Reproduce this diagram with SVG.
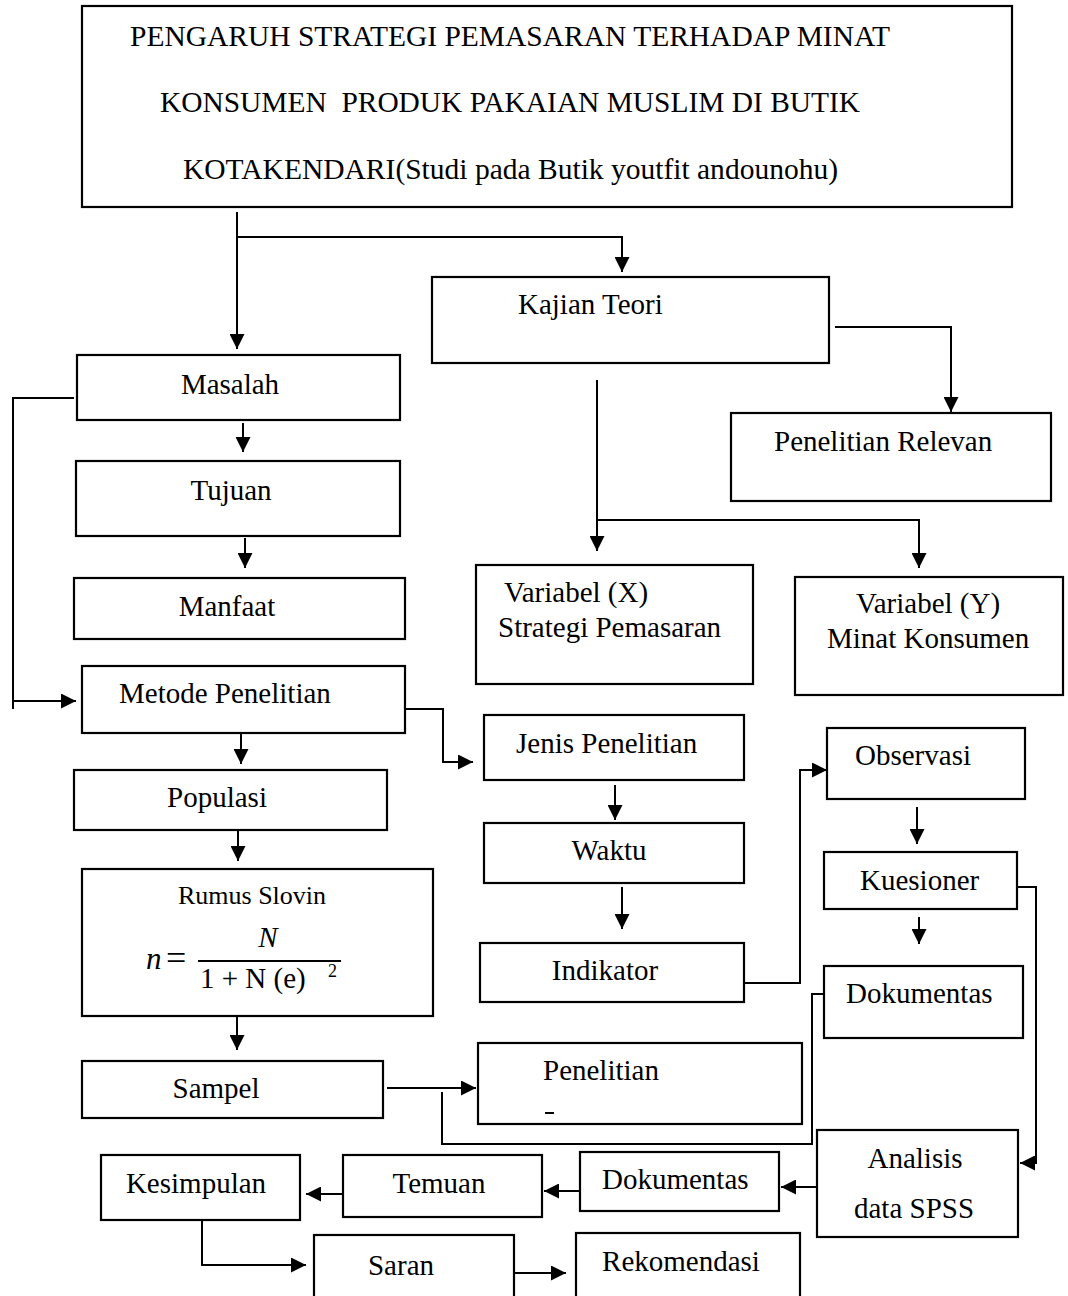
<svg xmlns="http://www.w3.org/2000/svg" width="1068" height="1296" viewBox="0 0 1068 1296">
<style>
.box{fill:#fff;stroke:#000;stroke-width:2.2}
.t{font-family:"Liberation Serif","Times New Roman",serif;font-size:29px;fill:#000}
.c{text-anchor:middle}
.ln{fill:none;stroke:#000;stroke-width:2}
.m{font-family:"Liberation Serif","Times New Roman",serif;fill:#000}
</style>
<defs>
<marker id="ah" markerUnits="userSpaceOnUse" markerWidth="15" markerHeight="15" refX="15" refY="7.5" orient="auto" viewBox="0 0 15 15">
<path d="M0,0 L15,7.5 L0,15 z" fill="#000"/>
</marker>
</defs>
<rect width="1068" height="1296" fill="#fff"/>
<g id="connectors">
<path class="ln" d="M237,212 V349" marker-end="url(#ah)"/>
<path class="ln" d="M237,237 H622 V272" marker-end="url(#ah)"/>
<path class="ln" d="M243,423 V452" marker-end="url(#ah)"/>
<path class="ln" d="M245,538 V568" marker-end="url(#ah)"/>
<path class="ln" d="M74,398 H13 V709"/>
<path class="ln" d="M13,701 H76" marker-end="url(#ah)"/>
<path class="ln" d="M241,734 V764" marker-end="url(#ah)"/>
<path class="ln" d="M405,709 H443 V762 H473" marker-end="url(#ah)"/>
<path class="ln" d="M238,831 V861" marker-end="url(#ah)"/>
<path class="ln" d="M237,1017 V1050" marker-end="url(#ah)"/>
<path class="ln" d="M387,1088 H476" marker-end="url(#ah)"/>
<path class="ln" d="M824,994 H812 V1144 H442 V1092"/>
<path class="ln" d="M835,327 H951 V412" marker-end="url(#ah)"/>
<path class="ln" d="M597,380 V551" marker-end="url(#ah)"/>
<path class="ln" d="M597,520 H919 V568" marker-end="url(#ah)"/>
<path class="ln" d="M615,785 V820" marker-end="url(#ah)"/>
<path class="ln" d="M622,887 V929" marker-end="url(#ah)"/>
<path class="ln" d="M744,983 H800 V770 H827" marker-end="url(#ah)"/>
<path class="ln" d="M917,807 V844" marker-end="url(#ah)"/>
<path class="ln" d="M919,917 V944" marker-end="url(#ah)"/>
<path class="ln" d="M1017,887 H1036 V1163 H1020" marker-end="url(#ah)"/>
<path class="ln" d="M817,1187 H781" marker-end="url(#ah)"/>
<path class="ln" d="M580,1191 H544" marker-end="url(#ah)"/>
<path class="ln" d="M343,1194 H306" marker-end="url(#ah)"/>
<path class="ln" d="M202,1220 V1265 H306" marker-end="url(#ah)"/>
<path class="ln" d="M514,1273 H566" marker-end="url(#ah)"/>
</g>
<g id="title">
<rect class="box" x="82" y="6" width="930" height="201"/>
<text class="t" x="130" y="46" textLength="760" lengthAdjust="spacingAndGlyphs">PENGARUH STRATEGI PEMASARAN TERHADAP MINAT</text>
<text class="t" x="160" y="112" textLength="700" lengthAdjust="spacingAndGlyphs" xml:space="preserve">KONSUMEN  PRODUK PAKAIAN MUSLIM DI BUTIK</text>
<text class="t" x="183" y="179" textLength="655" lengthAdjust="spacingAndGlyphs">KOTAKENDARI(Studi pada Butik youtfit andounohu)</text>
</g>
<g id="kajian"><rect class="box" x="432" y="277" width="397" height="86"/><text class="t" x="518" y="314">Kajian Teori</text></g>
<g id="penelitian-relevan"><rect class="box" x="731" y="413" width="320" height="88"/><text class="t" x="774" y="451">Penelitian Relevan</text></g>
<g id="masalah"><rect class="box" x="77" y="355" width="323" height="65"/><text class="t c" x="230" y="394">Masalah</text></g>
<g id="tujuan"><rect class="box" x="76" y="461" width="324" height="75"/><text class="t c" x="231" y="500">Tujuan</text></g>
<g id="manfaat"><rect class="box" x="74" y="578" width="331" height="61"/><text class="t c" x="227" y="616">Manfaat</text></g>
<g id="variabel-x"><rect class="box" x="476" y="565" width="277" height="119"/><text class="t" x="504" y="602">Variabel (X)</text><text class="t" x="498" y="637">Strategi Pemasaran</text></g>
<g id="variabel-y"><rect class="box" x="795" y="577" width="268" height="118"/><text class="t" x="856" y="613">Variabel (Y)</text><text class="t" x="827" y="648">Minat Konsumen</text></g>
<g id="metode"><rect class="box" x="82" y="666" width="323" height="67"/><text class="t" x="119" y="703">Metode Penelitian</text></g>
<g id="jenis"><rect class="box" x="484" y="715" width="260" height="65"/><text class="t" x="516" y="753">Jenis Penelitian</text></g>
<g id="populasi"><rect class="box" x="74" y="770" width="313" height="60"/><text class="t c" x="217" y="807">Populasi</text></g>
<g id="observasi"><rect class="box" x="827" y="728" width="198" height="71"/><text class="t" x="855" y="765">Observasi</text></g>
<g id="waktu"><rect class="box" x="484" y="823" width="260" height="60"/><text class="t c" x="609" y="860">Waktu</text></g>
<g id="kuesioner"><rect class="box" x="824" y="852" width="193" height="57"/><text class="t" x="860" y="890">Kuesioner</text></g>
<g id="rumus">
<rect class="box" x="82" y="869" width="351" height="147"/>
<text class="t c" x="252" y="904" style="font-size:26px">Rumus Slovin</text>
<text class="m" x="146" y="969" style="font-size:31px;font-style:italic">n</text>
<text class="m" x="166" y="970" style="font-size:36px">=</text>
<text class="m" x="268" y="947" style="font-size:29px;font-style:italic;text-anchor:middle">N</text>
<line x1="198" y1="961" x2="341" y2="961" stroke="#000" stroke-width="2"/>
<text class="m" x="200" y="988" style="font-size:29px">1 + N (e)</text>
<text class="m" x="328" y="977" style="font-size:18px">2</text>
</g>
<g id="indikator"><rect class="box" x="480" y="943" width="264" height="59"/><text class="t c" x="605" y="980">Indikator</text></g>
<g id="dokumentas-1"><rect class="box" x="824" y="966" width="199" height="72"/><text class="t" x="846" y="1003">Dokumentas</text></g>
<g id="penelitian"><rect class="box" x="478" y="1043" width="324" height="81"/><text class="t" x="543" y="1080">Penelitian</text><rect x="545" y="1112" width="9" height="2" fill="#000"/></g>
<g id="sampel"><rect class="box" x="82" y="1061" width="301" height="57"/><text class="t c" x="216" y="1098">Sampel</text></g>
<g id="analisis"><rect class="box" x="817" y="1130" width="201" height="107"/><text class="t c" x="915" y="1168">Analisis</text><text class="t c" x="914" y="1218">data SPSS</text></g>
<g id="dokumentas-2"><rect class="box" x="580" y="1152" width="199" height="59"/><text class="t" x="602" y="1189">Dokumentas</text></g>
<g id="temuan"><rect class="box" x="343" y="1155" width="199" height="62"/><text class="t c" x="439" y="1193">Temuan</text></g>
<g id="kesimpulan"><rect class="box" x="101" y="1155" width="199" height="65"/><text class="t c" x="196" y="1193">Kesimpulan</text></g>
<g id="saran"><rect class="box" x="314" y="1235" width="200" height="70"/><text class="t c" x="401" y="1275">Saran</text></g>
<g id="rekomendasi"><rect class="box" x="576" y="1233" width="224" height="72"/><text class="t c" x="681" y="1271">Rekomendasi</text></g>
</svg>
